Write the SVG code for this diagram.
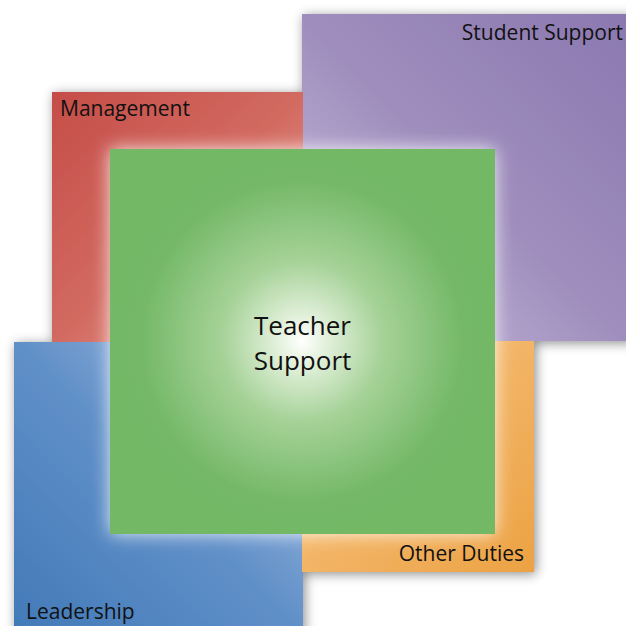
<svg xmlns="http://www.w3.org/2000/svg" width="626" height="626" viewBox="0 0 626 626">
<style>
.lbl{font-family:"Open Sans","Noto Sans","Liberation Sans",sans-serif;font-size:21px;fill:#111;}
.ctr{font-family:"Open Sans","Noto Sans","Liberation Sans",sans-serif;font-size:26px;fill:#111;text-anchor:middle;}
</style>
<defs>
<filter id="shadow" x="-20%" y="-20%" width="140%" height="140%">
<feDropShadow dx="2" dy="2" stdDeviation="6" flood-color="#000" flood-opacity="0.45"/>
</filter>
<filter id="glow" x="-20%" y="-20%" width="140%" height="140%">
<feGaussianBlur stdDeviation="9"/>
</filter>
<linearGradient id="gRed" gradientUnits="userSpaceOnUse" x1="52" y1="92" x2="302" y2="342">
<stop offset="0" stop-color="#c54d48"/><stop offset="0.5" stop-color="#d26a61"/><stop offset="1" stop-color="#eaa396"/>
</linearGradient>
<linearGradient id="gPur" gradientUnits="userSpaceOnUse" x1="626" y1="14" x2="302" y2="341">
<stop offset="0" stop-color="#8b78b0"/><stop offset="0.5" stop-color="#9f8ebd"/><stop offset="1" stop-color="#cbbfdf"/>
</linearGradient>
<linearGradient id="gBlu" gradientUnits="userSpaceOnUse" x1="14" y1="626" x2="302" y2="342">
<stop offset="0" stop-color="#427ab8"/><stop offset="0.5" stop-color="#6190c8"/><stop offset="1" stop-color="#adc4e6"/>
</linearGradient>
<linearGradient id="gOra" gradientUnits="userSpaceOnUse" x1="534" y1="572" x2="302" y2="341">
<stop offset="0" stop-color="#eca243"/><stop offset="0.5" stop-color="#f2b466"/><stop offset="1" stop-color="#fad7a6"/>
</linearGradient>
<radialGradient id="gGrn" gradientUnits="userSpaceOnUse" cx="302" cy="341" r="200">
<stop offset="0" stop-color="#ffffff"/><stop offset="0.12" stop-color="#e3f1dc"/><stop offset="0.4" stop-color="#a6d298"/><stop offset="0.8" stop-color="#75b968"/><stop offset="1" stop-color="#72b865"/>
</radialGradient>
</defs>
<rect width="626" height="626" fill="#ffffff"/>
<g id="outer" filter="url(#shadow)">
<g id="student-support"><rect x="302" y="14" width="330" height="327" fill="url(#gPur)"/></g>
<g id="management"><rect x="52" y="92" width="251" height="250" fill="url(#gRed)"/></g>
<g id="leadership"><rect x="14" y="342" width="289" height="290" fill="url(#gBlu)"/></g>
<g id="other-duties"><rect x="302" y="341" width="232" height="231" fill="url(#gOra)"/></g>
</g>
<g id="connectors"></g>
<g id="teacher-support">
<rect x="110" y="149" width="385" height="385" fill="#ffffff" opacity="0.85" filter="url(#glow)"/>
<rect x="110" y="149" width="385" height="385" fill="url(#gGrn)"/>
<text class="ctr" x="302.5" y="335">Teacher</text>
<text class="ctr" x="302.5" y="370">Support</text>
</g>
<g id="labels">
<text class="lbl" x="623" y="40" text-anchor="end">Student Support</text>
<text class="lbl" x="60" y="116">Management</text>
<text class="lbl" x="26" y="619">Leadership</text>
<text class="lbl" x="524" y="561" text-anchor="end">Other Duties</text>
</g>
</svg>
